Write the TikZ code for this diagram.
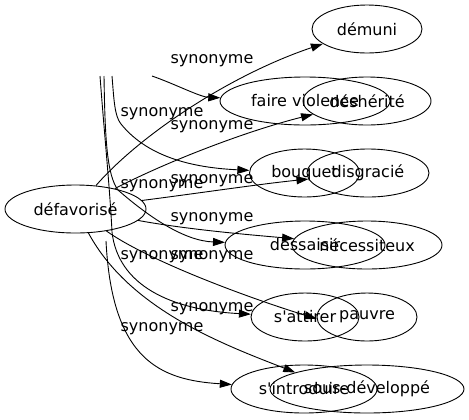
\documentclass[tikz,border=0pt]{standalone}
\usepackage{fontspec}
\setmainfont{DejaVu Sans}[Ligatures=TeXOff]
\usetikzlibrary{shapes.geometric,arrows.meta}
\begin{document}
\begin{tikzpicture}[x=1bp,y=-1bp,
  every node/.style={font=\fontsize{16bp}{19bp}\selectfont},
  word/.style={draw, ellipse, inner sep=0pt, minimum height=48bp, line width=0.9bp},
  syn/.style={draw, line width=0.9bp, -{Triangle[length=12bp,width=8bp]}},
  lbl/.style={anchor=base, inner sep=0pt}]
\useasboundingbox (0,0) rectangle (469,419);
% nodes
\node[word, minimum width=141bp] (defav) at (75.5,209) {défavorisé};
\node[word, minimum width=110bp] (demuni) at (367,29) {démuni};
\node[word, minimum width=170bp] (faire) at (305,101) {faire violence};
\node[word, minimum width=128bp] (desh) at (367,101) {déshérité};
\node[word, minimum width=110bp] (bouquet) at (304.5,173) {bouquet};
\node[word, minimum width=122bp] (disgr) at (368,173) {disgracié};
\node[word, minimum width=160bp] (dessaisir) at (305,245) {dessaisir};
\node[word, minimum width=150bp] (necess) at (367,245) {nécessiteux};
\node[word, minimum width=108bp] (sattirer) at (305,317) {s'attirer};
\node[word, minimum width=100bp] (pauvre) at (367,317) {pauvre};
\node[word, minimum width=146bp] (sintro) at (304,389) {s'introduire};
\node[word, minimum width=194bp] (sousdev) at (367,389) {sous-développé};
% loose ends
\coordinate (fvs) at (152,76);
\coordinate (bqs) at (112,76);
\coordinate (dss) at (104,76);
\coordinate (vls) at (100,76);
\coordinate (sis) at (106,241);
% connectors
\draw[syn] (defav) .. controls (140,135) and (230,75) .. (demuni);
\draw[syn] (fvs) .. controls (175,84) and (200,97) .. (faire);
\draw[syn] (defav) .. controls (170,160) and (250,130) .. (desh);
\draw[syn] (bqs) .. controls (114,100) and (114.5,116) .. (121,124) .. controls (150,160) and (200,168) .. (bouquet);
\draw[syn] (defav) .. controls (200,193) and (260,184) .. (disgr);
\draw[syn] (dss) .. controls (105,140) and (107,175) .. (118,190) .. controls (150,218) and (185,241) .. (dessaisir);
\draw[syn] (defav) .. controls (185,229) and (240,234) .. (necess);
\draw[syn] (defav) .. controls (150,262) and (255,300) .. (pauvre.182);
\draw[syn] (vls) .. controls (104,130) and (110,190) .. (112,232) .. controls (118,285) and (170,310) .. (sattirer);
\draw[syn] (defav) .. controls (130,310) and (225,345) .. (sousdev.167);
\draw[syn] (sis) .. controls (112,360) and (160,380) .. (sintro);
% labels
\node[lbl] (l1) at (212,63) {synonyme};
\node[lbl] (l2) at (162,116) {synonyme};
\node[lbl] (l3) at (212,129) {synonyme};
\node[lbl] (l4) at (162,188) {synonyme};
\node[lbl] (l5) at (212,183) {synonyme};
\node[lbl] (l6) at (212,221) {synonyme};
\node[lbl] (l7) at (162,259) {synonyme};
\node[lbl] (l8) at (212,259) {synonyme};
\node[lbl] (l9) at (212,311) {synonyme};
\node[lbl] (l10) at (162,331) {synonyme};
\end{tikzpicture}
\end{document}
